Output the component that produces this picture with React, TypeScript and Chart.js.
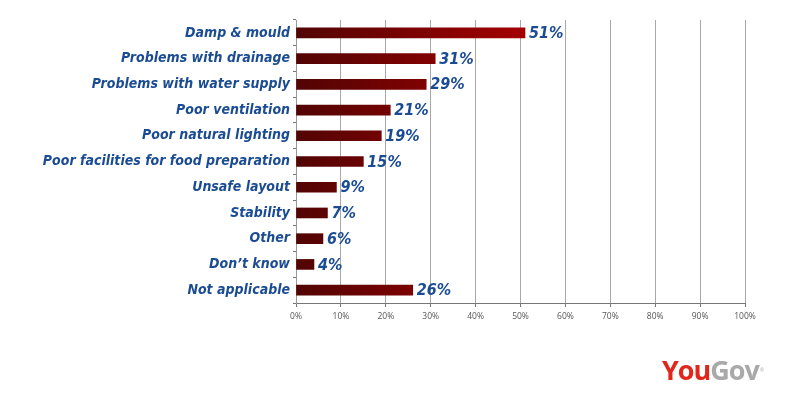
import React, { useEffect, useRef } from "react";
import { Chart, registerables } from "chart.js";

Chart.register(...registerables);

const categories = [
  "Damp & mould",
  "Problems with drainage",
  "Problems with water supply",
  "Poor ventilation",
  "Poor natural lighting",
  "Poor facilities for food preparation",
  "Unsafe layout",
  "Stability",
  "Other",
  "Don\u2019t know",
  "Not applicable",
];
const values = [51, 31, 29, 21, 19, 15, 9, 7, 6, 4, 26];
const xTicks = [0, 10, 20, 30, 40, 50, 60, 70, 80, 90, 100];

const BLUE = "#1b4c93";
const LABEL_FONT = "'DejaVu Sans Condensed', 'DejaVu Sans', sans-serif";

const valueLabels = {
  id: "valueLabels",
  afterDatasetsDraw(chart: any) {
    const { ctx } = chart;
    const meta = chart.getDatasetMeta(0);
    ctx.save();
    ctx.font = "oblique bold 16px " + LABEL_FONT;
    ctx.fillStyle = BLUE;
    ctx.textAlign = "left";
    ctx.textBaseline = "middle";
    meta.data.forEach((bar: any, i: number) => {
      ctx.fillText(values[i] + "%", bar.x + 4, bar.y + 1);
    });
    ctx.restore();
  },
};

export default function App() {
  const ref = useRef<HTMLCanvasElement>(null);
  useEffect(() => {
    document.body.style.margin = "0";
    const canvas = ref.current!;
    const chart = new Chart(canvas, {
      type: "bar",
      data: {
        labels: categories,
        datasets: [
          {
            data: values,
            backgroundColor: (c: any) => {
              const area = c.chart.chartArea;
              if (!area) return "#7a0000";
              const g = c.chart.ctx.createLinearGradient(area.left, 0, area.left + area.width * 0.52, 0);
              g.addColorStop(0, "#520404");
              g.addColorStop(1, "#a50000");
              return g;
            },
            borderWidth: 0,
            barThickness: 10,
          },
        ],
      },
      options: {
        indexAxis: "y",
        responsive: false,
        animation: false,
        maintainAspectRatio: false,
        layout: { padding: { top: 20, right: 65, bottom: 0, left: 0 } },
        plugins: { legend: { display: false }, tooltip: { enabled: false } },
        scales: {
          x: {
            min: 0,
            max: 100,
            afterBuildTicks: (s: any) => {
              s.ticks = xTicks.map((v) => ({ value: v }));
            },
            afterFit: (s: any) => {
              s.height = 102;
            },
            grid: {
              color: "#a8a8a8",
              lineWidth: 1,
              tickLength: 4,
              tickColor: "#777",
            },
            border: { color: "#777", width: 1 },
            ticks: {
              padding: 4,
              color: "#555",
              font: { family: "'Open Sans', sans-serif", size: 8.5 },
              callback: (v: any) => v + "%",
            },
          },
          y: {
            afterFit: (s: any) => {
              s.width = 296;
            },
            grid: {
              drawOnChartArea: false,
              offset: true,
              tickLength: 3,
              tickColor: "#777",
            },
            border: { color: "#999", width: 1 },
            ticks: {
              padding: 3,
              color: BLUE,
              font: { family: LABEL_FONT, size: 14, style: "oblique", weight: "bold" },
            },
          },
        },
      },
      plugins: [valueLabels],
    });
    return () => chart.destroy();
  }, []);

  return (
    <div style={{ position: "relative", width: 810, height: 405, background: "#fff" }}>
      <canvas ref={ref} width={810} height={405} style={{ display: "block" }} />
      <div
        style={{
          position: "absolute",
          left: 662,
          top: 354,
          fontFamily: "'Open Sans', sans-serif",
          fontWeight: 700,
          fontSize: 27,
          letterSpacing: -1,
          lineHeight: "32px",
        }}
      >
        <span style={{ color: "#e1261c" }}>You</span>
        <span style={{ color: "#a9a9a9" }}>Gov</span>
        <sup style={{ color: "#bbb", fontSize: 5, verticalAlign: "top", marginLeft: 1 }}>®</sup>
      </div>
    </div>
  );
}
